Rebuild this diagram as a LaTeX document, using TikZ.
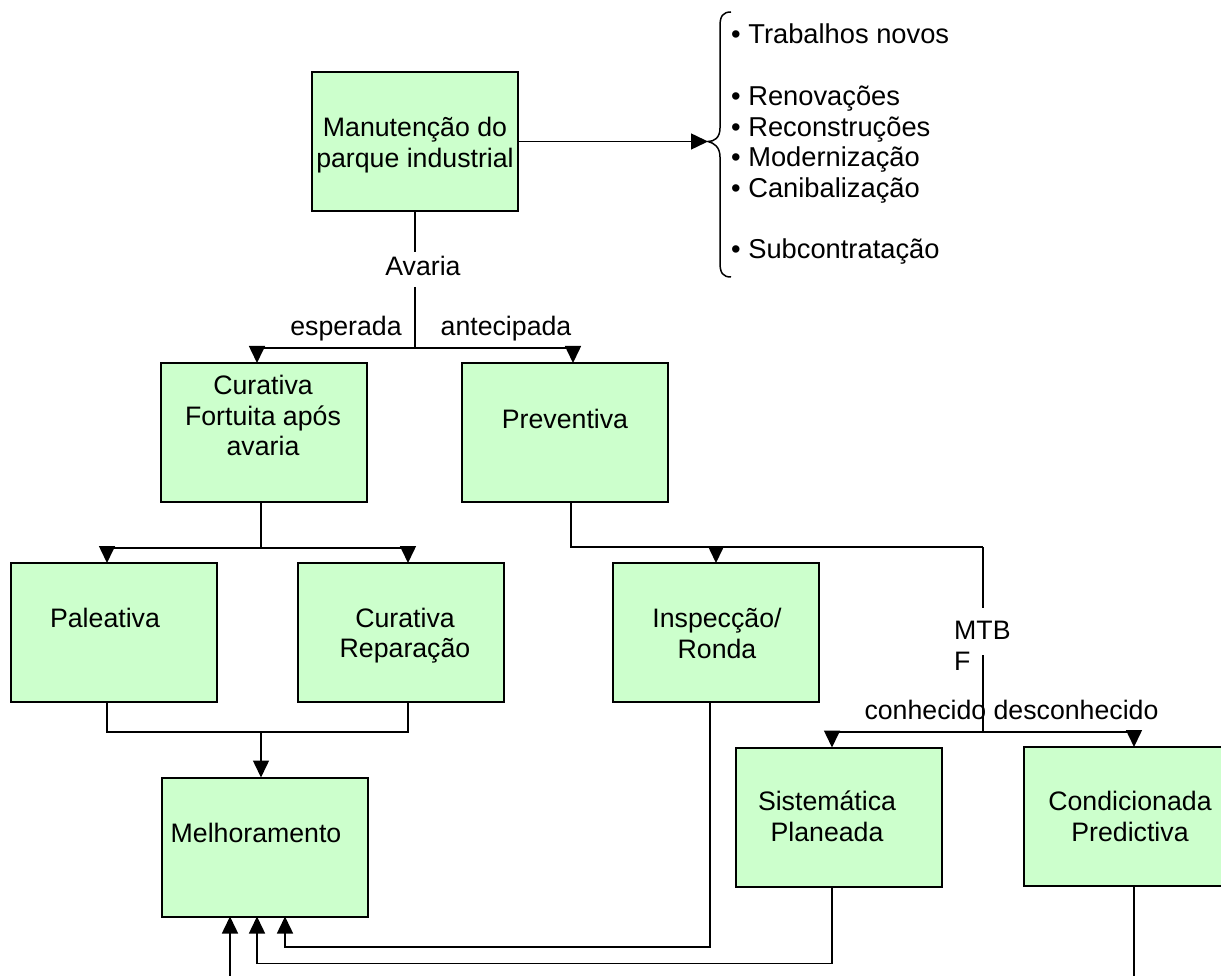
\documentclass[tikz,border=0pt]{standalone}
\usepackage{fontspec}
\setmainfont{Liberation Sans}
\usetikzlibrary{arrows.meta}
\definecolor{boxgreen}{HTML}{CCFFCC}
\begin{document}
\begin{tikzpicture}[x=1pt,y=-1pt,
  font=\fontsize{26.7}{30.5}\selectfont,
  box/.style={draw, line width=2pt, fill=boxgreen, inner sep=0pt, outer sep=0pt,
              minimum width=206pt, minimum height=139pt},
  txt/.style={inner sep=0pt, align=center},
  lbl/.style={inner sep=0pt, anchor=base},
  item/.style={inner sep=0pt, anchor=base west, font=\fontsize{27.3}{30.5}\selectfont},
  conn/.style={line width=1.5pt},
  arr/.style={conn, -{Triangle[length=17pt,width=16pt]}},
]
\clip (0,0) rectangle (1221,976);

% boxes
\node[box] (man)  at (415,141.5) {};
\node[box] (curf) at (264,432.5) {};
\node[box] (prev) at (565,432.5) {};
\node[box] (pal)  at (114,632.5) {};
\node[box] (cur)  at (401,632.5) {};
\node[box] (insp) at (716,632.5) {};
\node[box] (mel)  at (264.5,847) {};
\node[box] (sis)  at (839,817) {};
\node[box] (cond) at (1127,816.5) {};

% box texts
\node[txt] (tman)  at (415,145)   {Manutenção do\\parque industrial};
\node[txt] (tcurf) at (263,415.5) {Curativa\\Fortuita após\\avaria};
\node[lbl] (tprev) at (565,428)   {Preventiva};
\node[lbl] (tpal)  at (105,627)   {Paleativa};
\node[txt] (tcur)  at (405,635.6) {Curativa\\Reparação};
\node[txt] (tinsp) at (717,633.6) {Inspecção/\\Ronda};
\node[lbl] (tmel)  at (256,842)   {Melhoramento};
\node[txt] (tsis)  at (827,816.5) {Sistemática\\Planeada};
\node[txt] (tcond) at (1130,816.6) {Condicionada\\Predictiva};

% branch labels
\node[lbl] (avaria) at (423,276) {Avaria};
\node[lbl] (esp)    at (346,336) {esperada};
\node[lbl] (ant)    at (506,336) {antecipada};
\node[txt, align=left, anchor=north west] (mtbf) at (954,621) {MTB\\F};

% list of other activities
\node[item] (b1) at (731,43.3)  {• Trabalhos novos};
\node[item] (b2) at (731,106)   {• Renovações};
\node[item] (b3) at (731,136.5) {• Reconstruções};
\node[item] (b4) at (731,167)   {• Modernização};
\node[item] (b5) at (731,197.5) {• Canibalização};
\node[item] (b6) at (731,259)   {• Subcontratação};

% brace
\coordinate (tip) at (708,141.5);
\draw[conn] (731,12) .. controls (723,12) and (720,16) .. (720,26) -- (720,128)
  .. controls (720,138) and (714,141.5) .. (tip)
  .. controls (714,143) and (720,147) .. (720,157) -- (720,263)
  .. controls (720,273) and (723,277) .. (731,277);
\draw[arr] (man.east) -- (tip);

% first split: expected / anticipated failure
\coordinate (avtop) at (415,252);
\coordinate (avbot) at (415,287);
\coordinate (j1) at (415,348);
\draw[conn] (man.south) -- (avtop);
\draw[conn] (avbot) -- (j1);
\draw[arr] (j1) -| ([xshift=-7pt]curf.north);
\draw[arr] (j1) -| ([xshift=8pt]prev.north);

% corrective split
\coordinate (j2) at (261,548);
\draw[conn] ([xshift=-3pt]curf.south) -- (j2);
\draw[arr] (j2) -| ([xshift=-7pt]pal.north);
\draw[arr] (j2) -| ([xshift=7pt]cur.north);

% merge into improvement
\coordinate (j3) at (261,732);
\draw[conn] ([xshift=-7pt]pal.south) |- (j3) -| ([xshift=7pt]cur.south);
\draw[arr] (j3) -- (j3 |- mel.north);

% preventive split
\coordinate (j4) at (983,547);
\coordinate (mtbtop) at (983,608);
\coordinate (mtbbot) at (983,655);
\coordinate (j5) at (983,732);
\draw[conn] ([xshift=6pt]prev.south) |- (j4);
\draw[arr] (insp.north |- j4) -- (insp.north);
\draw[conn] (j4) -- (mtbtop);
\draw[conn] (mtbbot) -- (j5);
\draw[arr] (j5) -| ([xshift=-7pt]sis.north);
\draw[arr] (j5) -| ([xshift=7pt]cond.north);
\node[lbl] (mtbfval) at (1011.5,719) {conhecido desconhecido};

% feedback into improvement
\coordinate (below) at (230,990);
\draw[arr] ([xshift=-6pt]insp.south) -- ++(0,245) -| ([xshift=20.5pt]mel.south);
\draw[arr] ([xshift=-7pt]sis.south) -- ++(0,77) -| ([xshift=-7.5pt]mel.south);
\draw[conn] ([xshift=7pt]cond.south) -- ++(0,110);
\draw[arr] (below) -- ([xshift=-34.5pt]mel.south);
\end{tikzpicture}
\end{document}
